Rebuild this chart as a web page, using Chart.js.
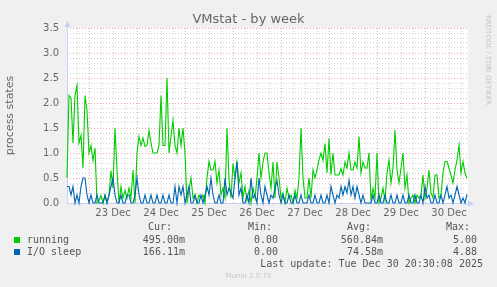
<!DOCTYPE html>
<html>
<head>
<meta charset="utf-8">
<title>VMstat - by week</title>
<script src="https://cdn.jsdelivr.net/npm/chart.js@4.4.1/dist/chart.umd.min.js"></script>
<style>
  body { margin: 0; background: #f0f0f0; }
  #wrap { position: relative; width: 497px; height: 287px; overflow: hidden; font-family: "DejaVu Sans", sans-serif; color: #666; }
  #chart { position: absolute; left: 0; top: 0; }
  .title { position: absolute; left: 0; top: 10px; width: 497px; text-align: center; font-size: 13px; line-height: 18px; }
  .rrd { position: absolute; left: 483px; top: 15px; writing-mode: vertical-rl; font-size: 7px; line-height: 9px; color: #c4c4c4; }
  .cell { position: absolute; font-family: "DejaVu Sans Mono", monospace; font-size: 10px; line-height: 12px; white-space: pre; color: #555; }
  .swatch { position: absolute; width: 6px; height: 6px; }
  .munin { position: absolute; left: 0; top: 271px; width: 497px; text-align: center; font-size: 7px; line-height: 10px; color: #c8c8c8; }
</style>
</head>
<body>
<div id="wrap">
  <canvas id="chart" width="497" height="287"></canvas>
  <div class="title">VMstat - by week</div>
  <div class="rrd">RRDTOOL / TOBI OETIKER</div>
  <div id="legend"></div>
  <div class="munin">Munin 2.0.75</div>
</div>
<script>
// hours counted from 23 Dec 00:00, one sample per hour
const START_HOUR = -11;
const END_HOUR = 189.5;
const dayLabels = ['23 Dec', '24 Dec', '25 Dec', '26 Dec', '27 Dec', '28 Dec', '29 Dec', '30 Dec'];

const running = [
  0.5, 2.15, 2.1, 1.2, 2.15, 2.35, 1.2, 1.35, 0.7, 2.15, 1.85, 1.0,
  1.15, 0.85, 1.1, 0, 0.05, 0.15, 0, 0.15, 0, 0.16, 0.65, 0.3,
  1.5, 0.66, 0, 0.33, 0.1, 0.25, 0.1, 0.3, 0.1, 0.66, 0, 1.0,
  1.33, 1.15, 1.3, 1.13, 1.15, 1.45, 1.2, 1.0, 1.0, 1.0, 1.15, 2.15,
  1.15, 1.15, 2.5, 1.0, 1.33, 1.65, 1.15, 1.0, 1.5, 1.15, 1.5, 1.0,
  0, 0.25, 0.5, 0.1, 0.16, 0, 0.16, 0.1, 0.16, 0, 0.5, 0.83,
  0.66, 0.66, 0.83, 0.4, 0.66, 0.16, 0.3, 0.1, 1.5, 0.46, 0.1, 0.79,
  0.5, 0.82, 0.4, 0.6, 0.1, 0.33, 0.05, 0.25, 0, 0.3, 0.1, 0.5,
  1.0, 0.5, 0.82, 1.0, 1.0, 0.6, 0.3, 0.82, 0.1, 0.82, 0.5, 0.1,
  0.2, 0, 0.3, 0.1, 0.16, 0, 0.25, 0.1, 0.5, 1.5, 0.5, 0.1,
  0.1, 0.5, 0.1, 0.66, 0.5, 0.66, 0.86, 1.0, 0.85, 1.19, 0.6, 1.29,
  0.56, 1.0, 0.56, 0.56, 0.56, 0.69, 0.56, 0.82, 0.7, 1.0, 0.66, 0.66,
  0.82, 0.7, 1.33, 0.6, 0.82, 0.7, 0.7, 1.0, 0.06, 0.3, 0.1, 1.0,
  0, 0.1, 0.3, 0.05, 0.6, 0.86, 0.4, 0.7, 1.46, 0.66, 0.4, 0.7,
  1.0, 0.3, 0.56, 0, 0.1, 0.16, 0, 0.16, 0.1, 0.16, 0.56, 0.1,
  0.3, 0.66, 0.2, 0.1, 0.56, 0.56, 0.1, 0.16, 0.6, 0.83, 0.83, 0.7,
  0.56, 0.4, 0.66, 0.86, 1.16, 0.6, 0.83, 0.6, 0.5
];

const ioSleep = [
  0.33, 0.33, 0.16, 0.33, 0, 0.16, 0, 0.33, 0.5, 0.5, 0.16, 0,
  0.16, 0, 0, 0.16, 0, 0, 0, 0.16, 0, 0.16, 0.33, 0.5,
  0.16, 0, 0, 0.16, 0, 0, 0.16, 0.16, 0, 0, 0.16, 0.5,
  0.16, 0, 0, 0.16, 0, 0, 0.16, 0, 0, 0.16, 0, 0,
  0.16, 0, 0, 0.16, 0, 0, 0.33, 0, 0.33, 0.16, 0.33, 0,
  0.16, 0.33, 0, 0, 0.16, 0, 0, 0.16, 0, 0.16, 0.33, 0.16,
  0.5, 0.16, 0, 0, 0.16, 0, 0, 0.5, 0.16, 0.3, 0.2, 0.1,
  0.5, 0.83, 0.16, 0.3, 0, 0, 0.16, 0, 0.5, 0.1, 0.16, 0,
  0.5, 0.16, 0, 0.33, 0.16, 0, 0.16, 0.1, 0.3, 0.45, 0.16, 0,
  0.16, 0, 0, 0.16, 0, 0, 0.16, 0, 0, 0.16, 0, 0,
  0, 0.16, 0, 0, 0.16, 0, 0, 0.16, 0, 0, 0.16, 0,
  0.33, 0.16, 0, 0.16, 0.1, 0.33, 0.16, 0.33, 0.2, 0.46, 0.16, 0.33,
  0.1, 0.33, 0.16, 0, 0.16, 0, 0, 0, 0, 0.16, 0, 0,
  0.16, 0, 0, 0.16, 0, 0, 0.16, 0, 0, 0.16, 0, 0,
  0.16, 0, 0, 0.16, 0, 0, 0.16, 0, 0, 0.16, 0, 0.33,
  0.1, 0.16, 0, 0, 0.16, 0, 0, 0.16, 0, 0.16, 0.33, 0.1,
  0.16, 0, 0.16, 0.33, 0.16, 0, 0.1, 0, 0.17
];

const seriesNames = ['running', 'I/O sleep'];
const curValues = ['495.00m', '166.11m'];
const minValues = ['0.00', '0.00'];
const avgValues = ['560.84m', '74.58m'];
const maxValues = ['5.00', '4.88'];
const lastUpdate = 'Last update: Tue Dec 30 20:30:08 2025';

const GREEN = '#00cc00';
const BLUE = '#0066b3';
const GRID = 'rgba(150,150,150,0.4)';
const MGRID = 'rgba(225,90,90,0.5)';
const AXIS = '#c9d0f4';

function toPoints(values) {
  return values.map((v, i) => ({ x: START_HOUR + i, y: v }));
}

// white canvas behind the plot, axis lines with arrows
const frame = {
  id: 'frame',
  beforeDraw(chart) {
    const { ctx, chartArea: a } = chart;
    ctx.save();
    ctx.fillStyle = '#ffffff';
    ctx.fillRect(a.left, a.top, a.right - a.left, a.bottom - a.top);
    ctx.restore();
  },
  beforeDatasetsDraw(chart) {
    const { ctx, chartArea: a } = chart;
    ctx.save();
    ctx.strokeStyle = AXIS;
    ctx.fillStyle = AXIS;
    ctx.lineWidth = 1;
    ctx.beginPath();
    ctx.moveTo(a.left + 0.5, a.bottom);
    ctx.lineTo(a.left + 0.5, a.top - 2);
    ctx.moveTo(a.left, a.bottom + 0.5);
    ctx.lineTo(a.right + 1, a.bottom + 0.5);
    ctx.stroke();
    ctx.beginPath();
    ctx.moveTo(a.left - 2.5, a.top - 1);
    ctx.lineTo(a.left + 3.5, a.top - 1);
    ctx.lineTo(a.left + 0.5, a.top - 7);
    ctx.closePath();
    ctx.fill();
    ctx.beginPath();
    ctx.moveTo(a.right, a.bottom - 2.5);
    ctx.lineTo(a.right, a.bottom + 3.5);
    ctx.lineTo(a.right + 6, a.bottom + 0.5);
    ctx.closePath();
    ctx.fill();
    ctx.restore();
  }
};

Chart.defaults.font.family = '"DejaVu Sans", sans-serif';
Chart.defaults.font.size = 10;
Chart.defaults.color = '#666';

new Chart(document.getElementById('chart'), {
  type: 'line',
  data: {
    datasets: [
      { label: 'running', data: toPoints(running), borderColor: GREEN, borderWidth: 1.1,
        pointRadius: 0, tension: 0, order: 2, clip: 3 },
      { label: 'I/O sleep', data: toPoints(ioSleep), borderColor: BLUE, borderWidth: 1.1,
        pointRadius: 0, tension: 0, order: 1, clip: 3 }
    ]
  },
  options: {
    responsive: false,
    animation: false,
    layout: { padding: { top: 28, right: 29, bottom: 64, left: 0 } },
    plugins: { legend: { display: false }, tooltip: { enabled: false } },
    scales: {
      x: {
        type: 'linear',
        min: START_HOUR,
        max: END_HOUR,
        afterBuildTicks: s => {
          s.ticks = [];
          for (let h = -6; h <= END_HOUR; h += 6) s.ticks.push({ value: h });
        },
        afterFit: s => { s.height = 20; },
        ticks: {
          autoSkip: false, maxRotation: 0, padding: 4,
          callback: v => (v % 24 === 12 ? dayLabels[(v - 12) / 24] : '')
        },
        grid: { drawTicks: false, lineWidth: 1, color: c => (c.tick && c.tick.value % 24 === 0 ? MGRID : GRID) },
        border: { display: false, dash: [1, 2] }
      },
      y: {
        min: 0,
        max: 3.5,
        afterBuildTicks: s => {
          s.ticks = [];
          for (let k = 0; k <= 35; k++) s.ticks.push({ value: k / 10 });
        },
        afterFit: s => { s.width = 67; },
        ticks: {
          autoSkip: false, padding: 8,
          callback: v => (Math.round(v * 10) % 5 === 0 ? v.toFixed(1) : '')
        },
        title: { display: true, text: 'process states', font: { size: 11 }, padding: { top: 4, bottom: 0 } },
        grid: { drawTicks: false, lineWidth: 1, color: c => (c.tick && Math.round(c.tick.value * 10) % 5 === 0 ? MGRID : GRID) },
        border: { display: false, dash: [1, 2] }
      }
    }
  },
  plugins: [frame]
});

// legend table below the plot
const legend = document.getElementById('legend');
function cell(text, right, top, width) {
  const w = width || 160;
  const d = document.createElement('div');
  d.className = 'cell';
  d.style.left = (right - w) + 'px';
  d.style.width = w + 'px';
  d.style.top = top + 'px';
  d.style.textAlign = 'right';
  d.textContent = text;
  legend.appendChild(d);
}
const colRight = [172, 272, 371, 470];
['Cur:', 'Min:', 'Avg:', 'Max:'].forEach((t, i) => cell(t, colRight[i], 221));
const valRight = [185, 278, 383, 477];
const colors = [GREEN, BLUE];
seriesNames.forEach((name, r) => {
  const top = 234 + r * 12;
  const sw = document.createElement('div');
  sw.className = 'swatch';
  sw.style.left = '14px';
  sw.style.top = (top + 3) + 'px';
  sw.style.background = colors[r];
  legend.appendChild(sw);
  const n = document.createElement('div');
  n.className = 'cell';
  n.style.left = '27px';
  n.style.top = top + 'px';
  n.textContent = name;
  legend.appendChild(n);
  [curValues[r], minValues[r], avgValues[r], maxValues[r]].forEach((v, i) => cell(v, valRight[i], top));
});
cell(lastUpdate, 483, 258, 260);
</script>
</body>
</html>
